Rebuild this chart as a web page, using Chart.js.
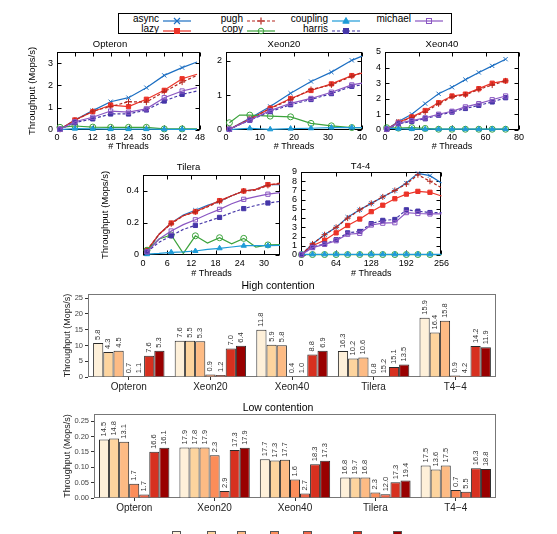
<!DOCTYPE html>
<html>
<head>
<meta charset="utf-8">
<script src="https://cdn.jsdelivr.net/npm/chart.js@4.4.1/dist/chart.umd.min.js"></script>
<style>
  html, body { margin: 0; padding: 0; background: #fff; overflow: hidden; }
  body { width: 557px; height: 534px; position: relative; font-family: 'Liberation Sans', Arial, Helvetica, sans-serif; }
  canvas { position: absolute; }
  .key { position: absolute; left: 118px; top: 13px; width: 334px; height: 21px; border: 1px solid #000; box-sizing: border-box; }
  .kt { position: absolute; width: 60px; text-align: right; font-size: 10px; line-height: 10px; color: #000; }
  .ks { position: absolute; }
  .sw { position: absolute; width: 9px; height: 9px; border: 1px solid #555; box-sizing: border-box; }
</style>
</head>
<body>
<div class="key" id="key"></div>
<script>
const FONT = "'Liberation Sans', Arial, Helvetica, sans-serif";

// algorithms, in legend order
const methods = ['async', 'lazy', 'pugh', 'copy', 'coupling', 'harris', 'michael'];
const methodColors = ['#1b6ec2', '#ec3328', '#b5271f', '#3ca33c', '#1e9bd7', '#4536a8', '#8a56c2'];
const methodMarkers = ['crossRot', 'rect', 'cross', 'circle', 'triangle', 'rect', 'rect'];
const methodFilled = [false, true, false, false, true, true, false];
const methodDashed = [false, false, true, false, false, true, false];

// Opteron
const opteronThreads = [1, 6, 12, 18, 24, 30, 36, 42, 47];
const opteronAsync    = [0.03, 0.45, 0.87, 1.27, 1.45, 1.90, 2.45, 2.80, 3.05];
const opteronLazy     = [0.03, 0.45, 0.82, 1.12, 1.05, 1.38, 1.78, 2.30, 2.50];
const opteronPugh     = [0.03, 0.43, 0.85, 1.05, 1.27, 1.25, 1.72, 2.15, 2.45];
const opteronCopy     = [0.12, 0.18, 0.13, 0.12, 0.12, 0.12, 0.05, 0.05, 0.05];
const opteronCoupling = [0.02, 0.06, 0.05, 0.04, 0.04, 0.04, 0.03, 0.03, 0.03];
const opteronHarris   = [0.03, 0.33, 0.50, 0.72, 0.72, 0.90, 1.30, 1.60, 1.75];
const opteronMichael  = [0.03, 0.37, 0.57, 0.85, 0.80, 0.95, 1.45, 1.75, 1.90];

// Xeon20
const xeon20Threads = [1, 4, 7, 13, 19, 25, 31, 37, 40];
const xeon20Async    = [0.02, 0.18, 0.34, 0.68, 1.06, 1.40, 1.67, 2.01, 2.13];
const xeon20Lazy     = [0.02, 0.17, 0.31, 0.63, 0.91, 1.14, 1.33, 1.57, 1.64];
const xeon20Pugh     = [0.02, 0.17, 0.31, 0.62, 0.88, 1.17, 1.30, 1.55, 1.66];
const xeon20Copy     = [0.21, 0.43, 0.43, 0.40, 0.38, 0.19, 0.12, 0.07, 0.07];
const xeon20Coupling = [0.01, 0.03, 0.05, 0.02, 0.04, 0.05, 0.07, 0.07, 0.07];
const xeon20Harris   = [0.02, 0.15, 0.28, 0.53, 0.73, 0.88, 1.05, 1.26, 1.30];
const xeon20Michael  = [0.02, 0.16, 0.29, 0.56, 0.77, 0.91, 1.09, 1.30, 1.35];

// Xeon40
const xeon40Threads = [1, 8, 16, 24, 32, 40, 48, 56, 64, 72];
const xeon40Async    = [0.05, 0.55, 1.01, 1.69, 2.32, 2.74, 3.23, 3.69, 4.11, 4.54];
const xeon40Lazy     = [0.05, 0.50, 0.84, 1.25, 1.75, 2.18, 2.30, 2.65, 3.00, 3.15];
const xeon40Pugh     = [0.05, 0.48, 0.80, 1.15, 1.68, 2.12, 2.25, 2.60, 2.88, 3.15];
const xeon40Copy     = [0.15, 0.12, 0.15, 0.10, 0.05, 0.05, 0.05, 0.05, 0.05, 0.05];
const xeon40Coupling = [0.10, 0.08, 0.06, 0.05, 0.05, 0.05, 0.05, 0.05, 0.05, 0.05];
const xeon40Harris   = [0.05, 0.40, 0.55, 0.72, 0.95, 1.15, 1.38, 1.58, 1.80, 2.07];
const xeon40Michael  = [0.05, 0.45, 0.60, 0.78, 1.01, 1.20, 1.48, 1.69, 1.94, 2.18];

// Tilera
const tileraThreads = [1, 4, 7, 10, 13, 16, 19, 22, 25, 28, 31, 34];
const tileraAsync    = [0.02, 0.13, 0.20, 0.25, 0.28, 0.31, 0.335, 0.37, 0.40, 0.41, 0.44, 0.44];
const tileraLazy     = [0.03, 0.13, 0.20, 0.245, 0.27, 0.305, 0.34, 0.37, 0.40, 0.41, 0.44, 0.445];
const tileraPugh     = [0.03, 0.13, 0.195, 0.245, 0.27, 0.30, 0.335, 0.37, 0.40, 0.405, 0.435, 0.45];
const tileraCopy     = [0.03, 0.10, 0.125, 0.01, 0.12, 0.075, 0.108, 0.07, 0.104, 0.05, 0.063, 0.065];
const tileraCoupling = [0.005, 0.01, 0.017, 0.02, 0.025, 0.035, 0.042, 0.05, 0.058, 0.058, 0.058, 0.06];
const tileraHarris   = [0.02, 0.08, 0.12, 0.16, 0.185, 0.21, 0.235, 0.265, 0.29, 0.31, 0.325, 0.335];
const tileraMichael  = [0.02, 0.10, 0.15, 0.19, 0.22, 0.255, 0.285, 0.32, 0.348, 0.365, 0.38, 0.39];

// T4-4
const t44Threads = [1, 21, 43, 64, 85, 107, 128, 149, 171, 192, 213, 235, 256];
const t44Async    = [0.05, 1.2, 2.2, 3.0, 4.1, 4.9, 5.6, 6.3, 7.0, 7.8, 8.85, 8.6, 7.8];
const t44Lazy     = [0.05, 1.0, 1.6, 2.4, 3.2, 3.9, 4.7, 5.4, 6.1, 6.6, 6.9, 6.8, 6.4];
const t44Pugh     = [0.05, 1.2, 2.2, 3.0, 4.0, 4.9, 5.6, 6.3, 7.0, 7.7, 8.7, 8.0, 7.3];
const t44Copy     = [0.05, 0.05, 0.05, 0.05, 0.05, 0.05, 0.05, 0.05, 0.05, 0.05, 0.05, 0.05, 0.05];
const t44Coupling = [0.07, 0.07, 0.07, 0.07, 0.07, 0.07, 0.07, 0.07, 0.07, 0.07, 0.07, 0.07, 0.07];
const t44Harris   = [0.05, 0.85, 1.2, 1.65, 2.4, 2.55, 3.4, 3.75, 3.85, 4.9, 4.75, 4.6, 4.6];
const t44Michael  = [0.05, 0.8, 1.15, 1.55, 2.25, 2.35, 3.25, 3.45, 3.5, 4.6, 4.5, 4.45, 4.45];

// bar charts: one row per platform, one column per bar
const platforms = ['Opteron', 'Xeon20', 'Xeon40', 'Tilera', 'T4\u22124'];
const barColors = ['#fef0d9', '#fdd49e', '#fdbb84', '#fc8d59', '#ef6548', '#d7301f', '#990000'];
const highBars = [
  [10.8, 7.9, 8.3, 0.2, 0.2, 6.7, 8.3],
  [11.5, 11.5, 11.3, 0.8, 0.6, 9.0, 9.9],
  [15.0, 10.2, 10.1, 0.2, 0.2, 7.1, 8.3],
  [8.2, 5.9, 6.2, 0.1, 0.2, 3.2, 4.0],
  [18.8, 14.1, 17.8, 0.5, 0.2, 9.8, 9.4]
];
const highNotes = [
  [5.8, 4.3, 4.5, 0.7, 1.1, 7.6, 5.3],
  [7.6, 5.5, 5.3, 0.9, 1.2, 7.0, 6.4],
  [11.8, 5.9, 5.8, 0.4, 1.0, 8.8, 6.9],
  [16.3, 10.2, 10.6, 0.8, 15.2, 15.1, 13.5],
  [15.9, 16.4, 15.8, 0.9, 4.2, 14.2, 11.9]
];
const lowBars = [
  [0.190, 0.193, 0.183, 0.046, 0.011, 0.150, 0.163],
  [0.164, 0.164, 0.164, 0.139, 0.023, 0.156, 0.163],
  [0.126, 0.122, 0.124, 0.060, 0.015, 0.110, 0.121],
  [0.067, 0.067, 0.067, 0.018, 0.012, 0.051, 0.057],
  [0.106, 0.093, 0.106, 0.026, 0.020, 0.097, 0.094]
];
const lowNotes = [
  [14.5, 14.8, 13.1, 1.7, 1.7, 16.6, 16.1],
  [17.9, 17.8, 17.9, 2.3, 2.9, 17.3, 17.9],
  [17.7, 17.3, 17.7, 1.6, 2.7, 18.3, 17.3],
  [16.8, 19.7, 16.8, 2.3, 12.0, 17.3, 19.4],
  [17.5, 13.6, 17.5, 0.7, 5.5, 16.3, 18.8]
];
const highTicks = [0, 5, 10, 15, 20, 25];
const lowTicks = [0, 0.05, 0.10, 0.15, 0.20, 0.25];

// frame around the plot area; gnuplot style inward ticks when asked
const framePlugin = {
  id: 'frame',
  beforeDatasetsDraw(chart, args, o) {
    const { ctx, chartArea: a } = chart;
    const l = Math.round(a.left) + 0.5, t = Math.round(a.top) + 0.5;
    const r = Math.round(a.right) - 0.5, b = Math.round(a.bottom) - 0.5;
    ctx.save();
    ctx.strokeStyle = o.color;
    ctx.lineWidth = 1;
    ctx.strokeRect(l, t, r - l, b - t);
    if (o.inward) {
      ctx.beginPath();
      const sx = chart.scales.x, sy = chart.scales.y;
      sx.ticks.forEach(tk => {
        const p = Math.round(sx.getPixelForValue(tk.value)) + 0.5;
        ctx.moveTo(p, b); ctx.lineTo(p, b - 4);
        ctx.moveTo(p, t); ctx.lineTo(p, t + 4);
      });
      sy.ticks.forEach(tk => {
        const p = Math.round(sy.getPixelForValue(tk.value)) + 0.5;
        ctx.moveTo(l, p); ctx.lineTo(l + 4, p);
        ctx.moveTo(r, p); ctx.lineTo(r - 4, p);
      });
      ctx.stroke();
    }
    ctx.restore();
  }
};

// rotated numbers printed over each bar
const notesPlugin = {
  id: 'notes',
  afterDatasetsDraw(chart, args, o) {
    const { ctx } = chart;
    ctx.save();
    ctx.font = '7.5px ' + FONT;
    ctx.fillStyle = '#333';
    ctx.textAlign = 'left';
    ctx.textBaseline = 'middle';
    chart.data.datasets.forEach((ds, k) => {
      chart.getDatasetMeta(k).data.forEach((bar, i) => {
        ctx.save();
        ctx.translate(bar.x, bar.y - 3);
        ctx.rotate(-Math.PI / 2);
        ctx.fillText(o.notes[i][k].toFixed(1), 0, 0);
        ctx.restore();
      });
    });
    ctx.restore();
  }
};

function addCanvas(left, top, w, h) {
  const cv = document.createElement('canvas');
  cv.width = w; cv.height = h;
  cv.style.left = left + 'px';
  cv.style.top = top + 'px';
  cv.style.width = w + 'px';
  cv.style.height = h + 'px';
  document.body.appendChild(cv);
  return cv;
}

function lineChart(g) {
  const left = g.L - g.yW, top = g.T - g.titleH;
  const cv = addCanvas(left, top, g.R - left + g.padR, g.B - top + g.xH);
  const font = { family: FONT, size: 9, lineHeight: '12px' };
  const datasets = methods.map((m, k) => ({
    label: m,
    data: g.xs.map((x, i) => ({ x: x, y: g.ys[k][i] })),
    borderColor: methodColors[k],
    backgroundColor: methodFilled[k] ? methodColors[k] : 'rgba(0,0,0,0)',
    borderWidth: 1.2,
    borderDash: methodDashed[k] ? [3, 2] : [],
    pointStyle: methodMarkers[k],
    pointRadius: g.xs.map(x => g.mark(x) ? 3 : 0),
    pointBorderWidth: 1,
    tension: 0,
    clip: 6,
    order: methods.length - k
  }));
  new Chart(cv, {
    type: 'line',
    data: { datasets },
    options: {
      responsive: false,
      animation: false,
      events: [],
      layout: { padding: { left: 0, right: g.padR, top: 0, bottom: 0 } },
      plugins: {
        legend: { display: false },
        tooltip: { enabled: false },
        title: {
          display: true, text: g.title, color: '#000',
          font: { family: FONT, size: 9.5, lineHeight: '12px', weight: 'normal' },
          padding: { top: 0, bottom: g.titleH - 12 }
        },
        frame: { color: '#000', inward: true }
      },
      scales: {
        x: {
          type: 'linear', min: 0, max: g.xMax,
          afterBuildTicks: s => { s.ticks = g.xTicks.map(v => ({ value: v })); },
          afterFit: s => { s.height = g.xH; },
          grid: { display: false, drawTicks: false },
          border: { display: false },
          ticks: { padding: g.xPad, color: '#000', font: font, maxRotation: 0, autoSkip: false },
          title: { display: true, text: '# Threads', color: '#000', font: font, padding: { top: 0, bottom: 0 } }
        },
        y: {
          type: 'linear', min: 0, max: g.yMax,
          afterBuildTicks: s => { s.ticks = g.yTicks.map(v => ({ value: v })); },
          afterFit: s => { s.width = g.yW; },
          grid: { display: false, drawTicks: false },
          border: { display: false },
          ticks: { padding: 4, color: '#000', font: font, autoSkip: false },
          title: {
            display: g.yTitle, text: 'Throughput (Mops/s)', color: '#000',
            font: { family: FONT, size: 9.5, lineHeight: '12px' },
            padding: { top: g.yTitlePad || 0, bottom: 0 }
          }
        }
      }
    },
    plugins: [framePlugin]
  });
}

function barChart(g) {
  const left = g.L - g.yW, top = g.T - g.titleH;
  const cv = addCanvas(left, top, g.R - left + g.padR, g.B - top + g.xH);
  const datasets = barColors.map((c, k) => ({
    label: 'bar ' + (k + 1),
    data: g.bars.map(row => row[k]),
    backgroundColor: c,
    borderColor: '#2a2a2a',
    borderWidth: 1,
    categoryPercentage: 7 / 8,
    barPercentage: 1
  }));
  new Chart(cv, {
    type: 'bar',
    data: { labels: platforms, datasets },
    options: {
      responsive: false,
      animation: false,
      events: [],
      layout: { padding: { left: 0, right: g.padR, top: 0, bottom: 0 } },
      plugins: {
        legend: { display: false },
        tooltip: { enabled: false },
        title: {
          display: true, text: g.title, color: '#000',
          font: { family: FONT, size: 10.5, lineHeight: '12px', weight: 'normal' },
          padding: { top: 0, bottom: g.titleH - 12 }
        },
        frame: { color: '#777', inward: false },
        notes: { notes: g.notes }
      },
      scales: {
        x: {
          afterFit: s => { s.height = g.xH; },
          grid: { display: true, drawOnChartArea: false, drawTicks: true, tickLength: 3, offset: false, color: '#333' },
          border: { display: false },
          ticks: { padding: g.xPad, color: '#222', font: { family: FONT, size: 10, lineHeight: '12px' }, maxRotation: 0, autoSkip: false }
        },
        y: {
          min: 0, max: g.yMax,
          afterBuildTicks: s => { s.ticks = g.yTicks.map(v => ({ value: v })); },
          afterFit: s => { s.width = g.yW; },
          grid: { display: true, drawOnChartArea: false, drawTicks: true, tickLength: 3, color: '#333' },
          border: { display: false },
          ticks: { padding: 2, color: '#444', font: { family: FONT, size: 7.5 }, autoSkip: false, callback: g.fmt },
          title: {
            display: true, text: 'Throughput (Mops/s)', color: '#222',
            font: { family: FONT, size: 9, lineHeight: '11px' },
            padding: { top: g.yTitlePad, bottom: 0 }
          }
        }
      }
    },
    plugins: [framePlugin, notesPlugin]
  });
}

// top key
const key = document.getElementById('key');
const keyCols = [[0, 1], [2, 3], [4, 5], [6]];
const keyTextRight = [40, 124, 209, 292];
function sampleSvg(k) {
  const c = methodColors[k];
  const dash = methodDashed[k] ? ' stroke-dasharray="3,2"' : '';
  let mk = '';
  const st = methodMarkers[k];
  const fill = methodFilled[k] ? c : 'none';
  if (st === 'crossRot') mk = `<path d="M11 3L17 9M17 3L11 9" stroke="${c}" stroke-width="1.2"/>`;
  else if (st === 'cross') mk = `<path d="M14 2.5V9.5M10.5 6H17.5" stroke="${c}" stroke-width="1.2"/>`;
  else if (st === 'rect') mk = `<rect x="11.5" y="3.5" width="5" height="5" fill="${fill}" stroke="${c}" stroke-width="1"/>`;
  else if (st === 'circle') mk = `<circle cx="14" cy="6" r="2.8" fill="${fill}" stroke="${c}" stroke-width="1"/>`;
  else if (st === 'triangle') mk = `<path d="M14 2.5L17.2 8.2H10.8Z" fill="${fill}" stroke="${c}" stroke-width="1"/>`;
  return `<svg width="28" height="12"><line x1="0" y1="6" x2="28" y2="6" stroke="${c}" stroke-width="1.2"${dash}/>${mk}</svg>`;
}
keyCols.forEach((col, ci) => {
  col.forEach((k, ri) => {
    const t = document.createElement('div');
    t.className = 'kt';
    t.textContent = methods[k];
    t.style.left = (keyTextRight[ci] - 60) + 'px';
    t.style.top = (ri * 10) + 'px';
    key.appendChild(t);
    const s = document.createElement('div');
    s.className = 'ks';
    s.style.left = (keyTextRight[ci] + 4) + 'px';
    s.style.top = (ri * 10 - 1) + 'px';
    s.innerHTML = sampleSvg(k);
    key.appendChild(s);
  });
});

lineChart({
  title: 'Opteron', L: 57, T: 52, R: 200, B: 130, yW: 37, titleH: 14, xH: 23, xPad: 2, padR: 10,
  yTitle: true, yTitlePad: 6,
  xs: opteronThreads, xMax: 48, xTicks: [0, 6, 12, 18, 24, 30, 36, 42, 48],
  yMax: 3.5, yTicks: [0, 1, 2, 3], mark: x => x !== 47,
  ys: [opteronAsync, opteronLazy, opteronPugh, opteronCopy, opteronCoupling, opteronHarris, opteronMichael]
});
lineChart({
  title: 'Xeon20', L: 226, T: 52, R: 362, B: 130, yW: 20, titleH: 14, xH: 23, xPad: 2, padR: 10,
  yTitle: false,
  xs: xeon20Threads, xMax: 40, xTicks: [0, 10, 20, 30, 40],
  yMax: 2.25, yTicks: [0, 1, 2], mark: x => (x - 1) % 6 === 0,
  ys: [xeon20Async, xeon20Lazy, xeon20Pugh, xeon20Copy, xeon20Coupling, xeon20Harris, xeon20Michael]
});
lineChart({
  title: 'Xeon40', L: 385, T: 52, R: 519, B: 130, yW: 20, titleH: 14, xH: 23, xPad: 2, padR: 10,
  yTitle: false,
  xs: xeon40Threads, xMax: 80, xTicks: [0, 20, 40, 60, 80],
  yMax: 5, yTicks: [0, 1, 2, 3, 4, 5], mark: x => true,
  ys: [xeon40Async, xeon40Lazy, xeon40Pugh, xeon40Copy, xeon40Coupling, xeon40Harris, xeon40Michael]
});
lineChart({
  title: 'Tilera', L: 143, T: 175, R: 280, B: 255, yW: 46, titleH: 14, xH: 25, xPad: 3, padR: 10,
  yTitle: true, yTitlePad: 2,
  xs: tileraThreads, xMax: 34, xTicks: [0, 6, 12, 18, 24, 30],
  yMax: 0.5, yTicks: [0, 0.2, 0.4], mark: x => (x - 1) % 6 === 0,
  ys: [tileraAsync, tileraLazy, tileraPugh, tileraCopy, tileraCoupling, tileraHarris, tileraMichael]
});
lineChart({
  title: 'T4-4', L: 301, T: 172, R: 442, B: 255, yW: 22, titleH: 12, xH: 25, xPad: 3, padR: 10,
  yTitle: false,
  xs: t44Threads, xMax: 256, xTicks: [0, 64, 128, 192, 256],
  yMax: 9, yTicks: [0, 1, 2, 3, 4, 5, 6, 7, 8, 9], mark: x => x !== 256,
  ys: [t44Async, t44Lazy, t44Pugh, t44Copy, t44Coupling, t44Harris, t44Michael]
});

barChart({
  title: 'High contention', L: 88, T: 294, R: 496, B: 377, yW: 28, titleH: 14, xH: 18, xPad: 1, padR: 6,
  yTitlePad: 2.5, yMax: 26.3, yTicks: highTicks, fmt: v => String(v),
  bars: highBars, notes: highNotes
});
barChart({
  title: 'Low contention', L: 94, T: 414, R: 496, B: 498, yW: 34, titleH: 12, xH: 18, xPad: 1, padR: 6,
  yTitlePad: 2.5, yMax: 0.273, yTicks: lowTicks, fmt: v => v.toFixed(2),
  bars: lowBars, notes: lowNotes
});

// bottom key swatches (their labels fall below the frame)
const swatchLeft = [172, 207, 237, 270, 303, 353, 393];
swatchLeft.forEach((x, k) => {
  const d = document.createElement('div');
  d.className = 'sw';
  d.style.left = x + 'px';
  d.style.top = '531px';
  d.style.background = barColors[k];
  document.body.appendChild(d);
});
</script>
</body>
</html>
